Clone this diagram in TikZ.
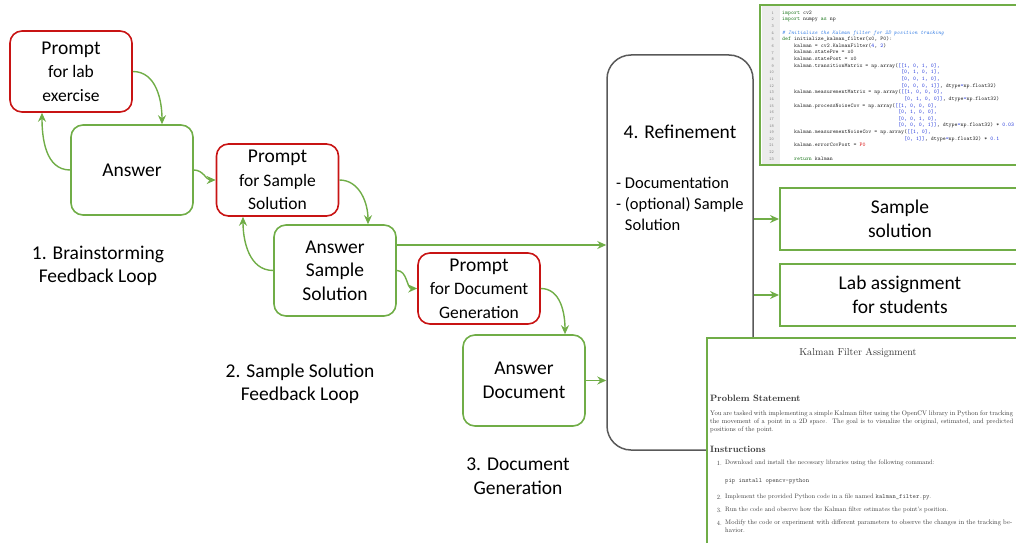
\documentclass[tikz,border=0pt]{standalone}
\usepackage{fontspec}
\newfontfamily\calibri{Carlito}
\newfontfamily\docfont{lmroman10-regular}[Extension=.otf, BoldFont=lmroman10-bold, ItalicFont=lmroman10-italic]
\newfontfamily\doctt{lmmono10-regular}[Extension=.otf]
\usepackage{tikz}
\usetikzlibrary{positioning}
\usetikzlibrary{arrows.meta}

\definecolor{promptred}{RGB}{200,20,20}
\definecolor{boxgreen}{RGB}{112,173,71}
\definecolor{refgray}{RGB}{89,89,89}
\definecolor{codekw}{RGB}{30,120,30}
\definecolor{codenum}{RGB}{40,60,220}
\definecolor{codecom}{RGB}{60,130,230}
\definecolor{codered}{RGB}{220,30,30}
\definecolor{gutter}{RGB}{236,236,236}
\definecolor{doctext}{RGB}{55,55,55}

\newcommand\bigtxt{\calibri\fontsize{19.5}{23.5}\selectfont}
\newcommand\smalltxt{\calibri\fontsize{17.5}{21}\selectfont}
\newcommand\listtxt{\calibri\fontsize{16.5}{21}\selectfont}
\newcommand\codefont{\fontsize{5.6}{6.636}\selectfont\ttfamily}
\newcommand\doctitle{\docfont\fontsize{10.1}{12}\selectfont}
\newcommand\dochead{\docfont\fontsize{9.2}{10}\selectfont\bfseries}
\newcommand\docbody{\docfont\fontsize{6.4}{8}\selectfont}
\newcommand\docpara{\docfont\fontsize{6.6}{8}\selectfont}
\newcommand\kw[1]{\textcolor{codekw}{#1}}
\newcommand\cnum[1]{\textcolor{codenum}{#1}}
\newcommand\ccom[1]{\textcolor{codecom}{\itshape #1}}
\newcommand\codeind[1]{\hspace*{#1\fontcharwd\font`0}}

\tikzset{
	promptbox/.style={rectangle, rounded corners=12pt, draw=promptred, line width=1.6pt, minimum width=122pt, inner sep=0pt, align=center, font=\bigtxt},
	answerbox/.style={rectangle, rounded corners=12pt, draw=boxgreen, line width=1.6pt, minimum width=122pt, inner sep=0pt, align=center, font=\bigtxt},
	refinebox/.style={rectangle, rounded corners=24pt, draw=refgray, line width=1.5pt, minimum width=146pt, minimum height=395pt, inner sep=0pt},
	outbox/.style={rectangle, draw=boxgreen, line width=2pt, minimum width=240pt, minimum height=62pt, align=center, font=\bigtxt},
	steplabel/.style={align=center, inner sep=0pt, font=\bigtxt},
	flow/.style={draw=boxgreen, line width=1.4pt, -{Stealth[length=9pt,width=8pt]}},
	shotframe/.style={draw=boxgreen, line width=2pt},
	lineno/.style={anchor=base east, inner sep=0pt, font=\fontsize{4.2}{5}\selectfont\ttfamily, text=gray},
	codetext/.style={anchor=north west, inner sep=0pt, align=left, font=\codefont, text=black!85},
	doctxt/.style={inner sep=0pt, text=doctext, font=\docbody}
}

\begin{document}
\begin{tikzpicture}[x=1pt,y=1pt]
	\useasboundingbox (0,0) rectangle (1016,-543);
	\clip (0,0) rectangle (1016,-543);

	\node[promptbox, minimum height=81pt] (LabPrompt) at (71,-71.5) {Prompt\\{\smalltxt for lab}\\{\smalltxt exercise}};
	\node[answerbox, minimum height=90pt] (LabAnswer) at (132,-170) {Answer};
	\node[promptbox, minimum height=72pt] (SolPrompt) at (277.5,-180) {Prompt\\{\smalltxt for Sample}\\{\smalltxt Solution}};
	\node[answerbox, minimum height=91pt] (SolAnswer) at (335,-270.5) {Answer\\Sample\\Solution};
	\node[promptbox, minimum height=71pt] (DocPrompt) at (479,-288.5) {Prompt\\{\smalltxt for Document}\\{\smalltxt Generation}};
	\node[answerbox, minimum height=91pt] (DocAnswer) at (524,-380.5) {Answer\\Document};

	\node[steplabel] (BrainLabel) at (98,-266) {1. Brainstorming\\Feedback Loop};
	\node[steplabel] (SolLabel) at (300,-384) {2. Sample Solution\\Feedback Loop};
	\node[steplabel] (DocLabel) at (518,-476) {3. Document\\Generation};

	\node[refinebox] (Refine) at (680,-252.5) {};
	\node[steplabel] (RefineTitle) at (680,-132) {4. Refinement};
	\node[anchor=north west, align=left, inner sep=0pt, font=\listtxt] (RefineList) at (616,-177) {- Documentation\\- (optional) Sample\\\phantom{- }Solution};

	\node[outbox] (SampleOut) at (900,-219) {Sample\\solution};
	\node[outbox] (LabOut) at (900,-295) {Lab assignment\\for students};

	% code screenshot
	\fill[white] (760,-5) rectangle (1016,-165);
	\fill[gutter] (762,-6) rectangle (780,-164);
	\draw[shotframe] (1016,-5) -- (760,-5) -- (760,-165) -- (1016,-165);
	\foreach \n in {1,...,23}
		\node[lineno] (Line\n) at (774,{-14.2-(\n-1)*6.636}) {\n};
	\node[codetext] (Code) at (782,-10.5) {\kw{import} cv2\\
		\kw{import} numpy \kw{as} np\\
		\mbox{}\\
		\ccom{\# Initialize the Kalman filter for 2D position tracking}\\
		\kw{def} initialize\_kalman\_filter(x0, P0):\\
		\codeind{4}kalman = cv2.KalmanFilter(\cnum{4}, \cnum{2})\\
		\codeind{4}kalman.statePre = x0\\
		\codeind{4}kalman.statePost = x0\\
		\codeind{4}kalman.transitionMatrix = np.array(\cnum{[[1, 0, 1, 0],}\\
		\codeind{40}\cnum{[0, 1, 0, 1],}\\
		\codeind{40}\cnum{[0, 0, 1, 0],}\\
		\codeind{40}\cnum{[0, 0, 0, 1]]}, dtype\cnum{=}np.float32)\\
		\codeind{4}kalman.measurementMatrix = np.array(\cnum{[[1, 0, 0, 0],}\\
		\codeind{41}\cnum{[0, 1, 0, 0]]}, dtype\cnum{=}np.float32)\\
		\codeind{4}kalman.processNoiseCov = np.array(\cnum{[[1, 0, 0, 0],}\\
		\codeind{39}\cnum{[0, 1, 0, 0],}\\
		\codeind{39}\cnum{[0, 0, 1, 0],}\\
		\codeind{39}\cnum{[0, 0, 0, 1]]}, dtype\cnum{=}np.float32) * \cnum{0.03}\\
		\codeind{4}kalman.measurementNoiseCov = np.array(\cnum{[[1, 0],}\\
		\codeind{41}\cnum{[0, 1]]}, dtype\cnum{=}np.float32) * \cnum{0.1}\\
		\codeind{4}kalman.errorCovPost = \textcolor{codered}{P0}\\
		\mbox{}\\
		\codeind{4}\kw{return} kalman};

	% assignment screenshot
	\fill[white] (707,-338) rectangle (1016,-543);
	\draw[shotframe] (707,-543) -- (707,-338) -- (1016,-338);
	\node[doctxt, font=\doctitle] (DocTitle) at (858,-353) {Kalman Filter Assignment};
	\node[doctxt, font=\dochead, anchor=west] (DocProblem) at (710,-398) {Problem Statement};
	\node[doctxt, font=\docpara, anchor=north west, align=left] (DocPara) at (710,-411) {\makebox[303pt][s]{You are tasked with implementing a simple Kalman filter using the OpenCV library in Python for tracking}\\
		\makebox[303pt][s]{the movement of a point in a 2D space.\ \ The goal is to visualize the original, estimated, and predicted}\\
		positions of the point.};
	\node[doctxt, font=\dochead, anchor=west] (DocInstr) at (710,-449) {Instructions};
	\node[doctxt, anchor=east] (NumA) at (722,-463) {1.};
	\node[doctxt, anchor=west] (ItemA) at (725,-463) {Download and install the necessary libraries using the following command:};
	\node[doctxt, anchor=west, font=\doctt\fontsize{6.4}{8}\selectfont] (ItemPip) at (725,-481) {pip install opencv-python};
	\node[doctxt, anchor=east] (NumB) at (722,-497) {2.};
	\node[doctxt, anchor=west] (ItemB) at (725,-497) {Implement the provided Python code in a file named {\doctt kalman\_filter.py}.};
	\node[doctxt, anchor=east] (NumC) at (722,-510) {3.};
	\node[doctxt, anchor=west] (ItemC) at (725,-510) {Run the code and observe how the Kalman filter estimates the point's position.};
	\node[doctxt, anchor=east] (NumD) at (722,-523) {4.};
	\node[doctxt, font=\docpara, anchor=north west, align=left] (ItemD) at (725,-520) {\makebox[287pt][s]{Modify the code or experiment with different parameters to observe the changes in the tracking be-}\\havior.};

	\coordinate (SolOut) at ([yshift=25.5pt]SolAnswer.east);
	\draw[flow] (LabPrompt.east) to[out=0,in=90] ([xshift=30pt]LabAnswer.north);
	\draw[flow] (LabAnswer.west) to[out=180,in=-90] ([xshift=-29pt]LabPrompt.south);
	\draw[flow] (LabAnswer.east) to[out=0,in=180] (SolPrompt.west);
	\draw[flow] (SolPrompt.east) to[out=0,in=90] ([xshift=33pt]SolAnswer.north);
	\draw[flow] (SolAnswer.west) to[out=180,in=-90] ([xshift=-34.5pt]SolPrompt.south);
	\draw[flow] (SolOut) -- (SolOut -| Refine.west);
	\draw[flow] (SolAnswer.east) to[out=0,in=180] (DocPrompt.west);
	\draw[flow] (DocPrompt.east) to[out=0,in=90] ([xshift=41pt]DocAnswer.north);
	\draw[flow] (DocAnswer.east) -- (DocAnswer.east -| Refine.west);
	\draw[flow] (SampleOut.west -| Refine.east) -- (SampleOut.west);
	\draw[flow] (LabOut.west -| Refine.east) -- (LabOut.west);
\end{tikzpicture}
\end{document}
